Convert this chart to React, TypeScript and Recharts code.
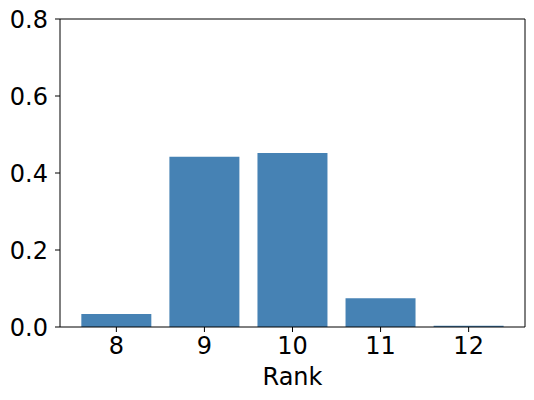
import React from "react";
import { BarChart, Bar, XAxis, YAxis, ReferenceLine } from "recharts";

// rank distribution
const ranks = [8, 9, 10, 11, 12];
const shares = [0.034, 0.442, 0.452, 0.075, 0.003];
const yTicks = [0, 0.2, 0.4, 0.6, 0.8];
const xDomain = [7.36, 12.64];
const yDomain = [0, 0.8];

const chartData = ranks.map((rank, i) => ({ rank, share: shares[i] }));

const FONT = "'DejaVu Sans', sans-serif";
const tickStyle = { fontSize: 24, fill: "#000", fontFamily: FONT };

const RankLabel = ({ viewBox }: any) => (
    <text
        x={viewBox.x + viewBox.width / 2}
        y={viewBox.y + 58}
        textAnchor="middle"
        fontSize={24}
        fontFamily={FONT}
        fill="#000"
    >
        Rank
    </text>
);

export default function App() {
    return (
        <div style={{ position: "absolute", left: 0, top: 0, width: 534, height: 400, background: "#fff" }}>
            <BarChart
                width={534}
                height={400}
                data={chartData}
                margin={{ top: 19, right: 9, bottom: 0, left: 0 }}
            >
                <XAxis
                    dataKey="rank"
                    type="number"
                    domain={xDomain}
                    ticks={ranks}
                    allowDataOverflow
                    height={73}
                    tickSize={5}
                    tickMargin={5}
                    tick={tickStyle}
                    stroke="#000"
                    axisLine={{ stroke: "#000", strokeWidth: 1 }}
                    tickLine={{ stroke: "#000", strokeWidth: 1 }}
                    label={<RankLabel />}
                />
                <YAxis
                    domain={yDomain}
                    ticks={yTicks}
                    width={60}
                    tickSize={5}
                    tickMargin={7}
                    tick={tickStyle}
                    stroke="#000"
                    tickFormatter={(v: number) => v.toFixed(1)}
                    axisLine={{ stroke: "#000", strokeWidth: 1 }}
                    tickLine={{ stroke: "#000", strokeWidth: 1 }}
                />
                <Bar dataKey="share" fill="#4682B4" barSize={70} isAnimationActive={false} />
                {/* top and right spines */}
                <ReferenceLine y={yDomain[1]} stroke="#000" strokeWidth={1} />
                <ReferenceLine x={xDomain[1]} stroke="#000" strokeWidth={1} />
            </BarChart>
        </div>
    );
}
